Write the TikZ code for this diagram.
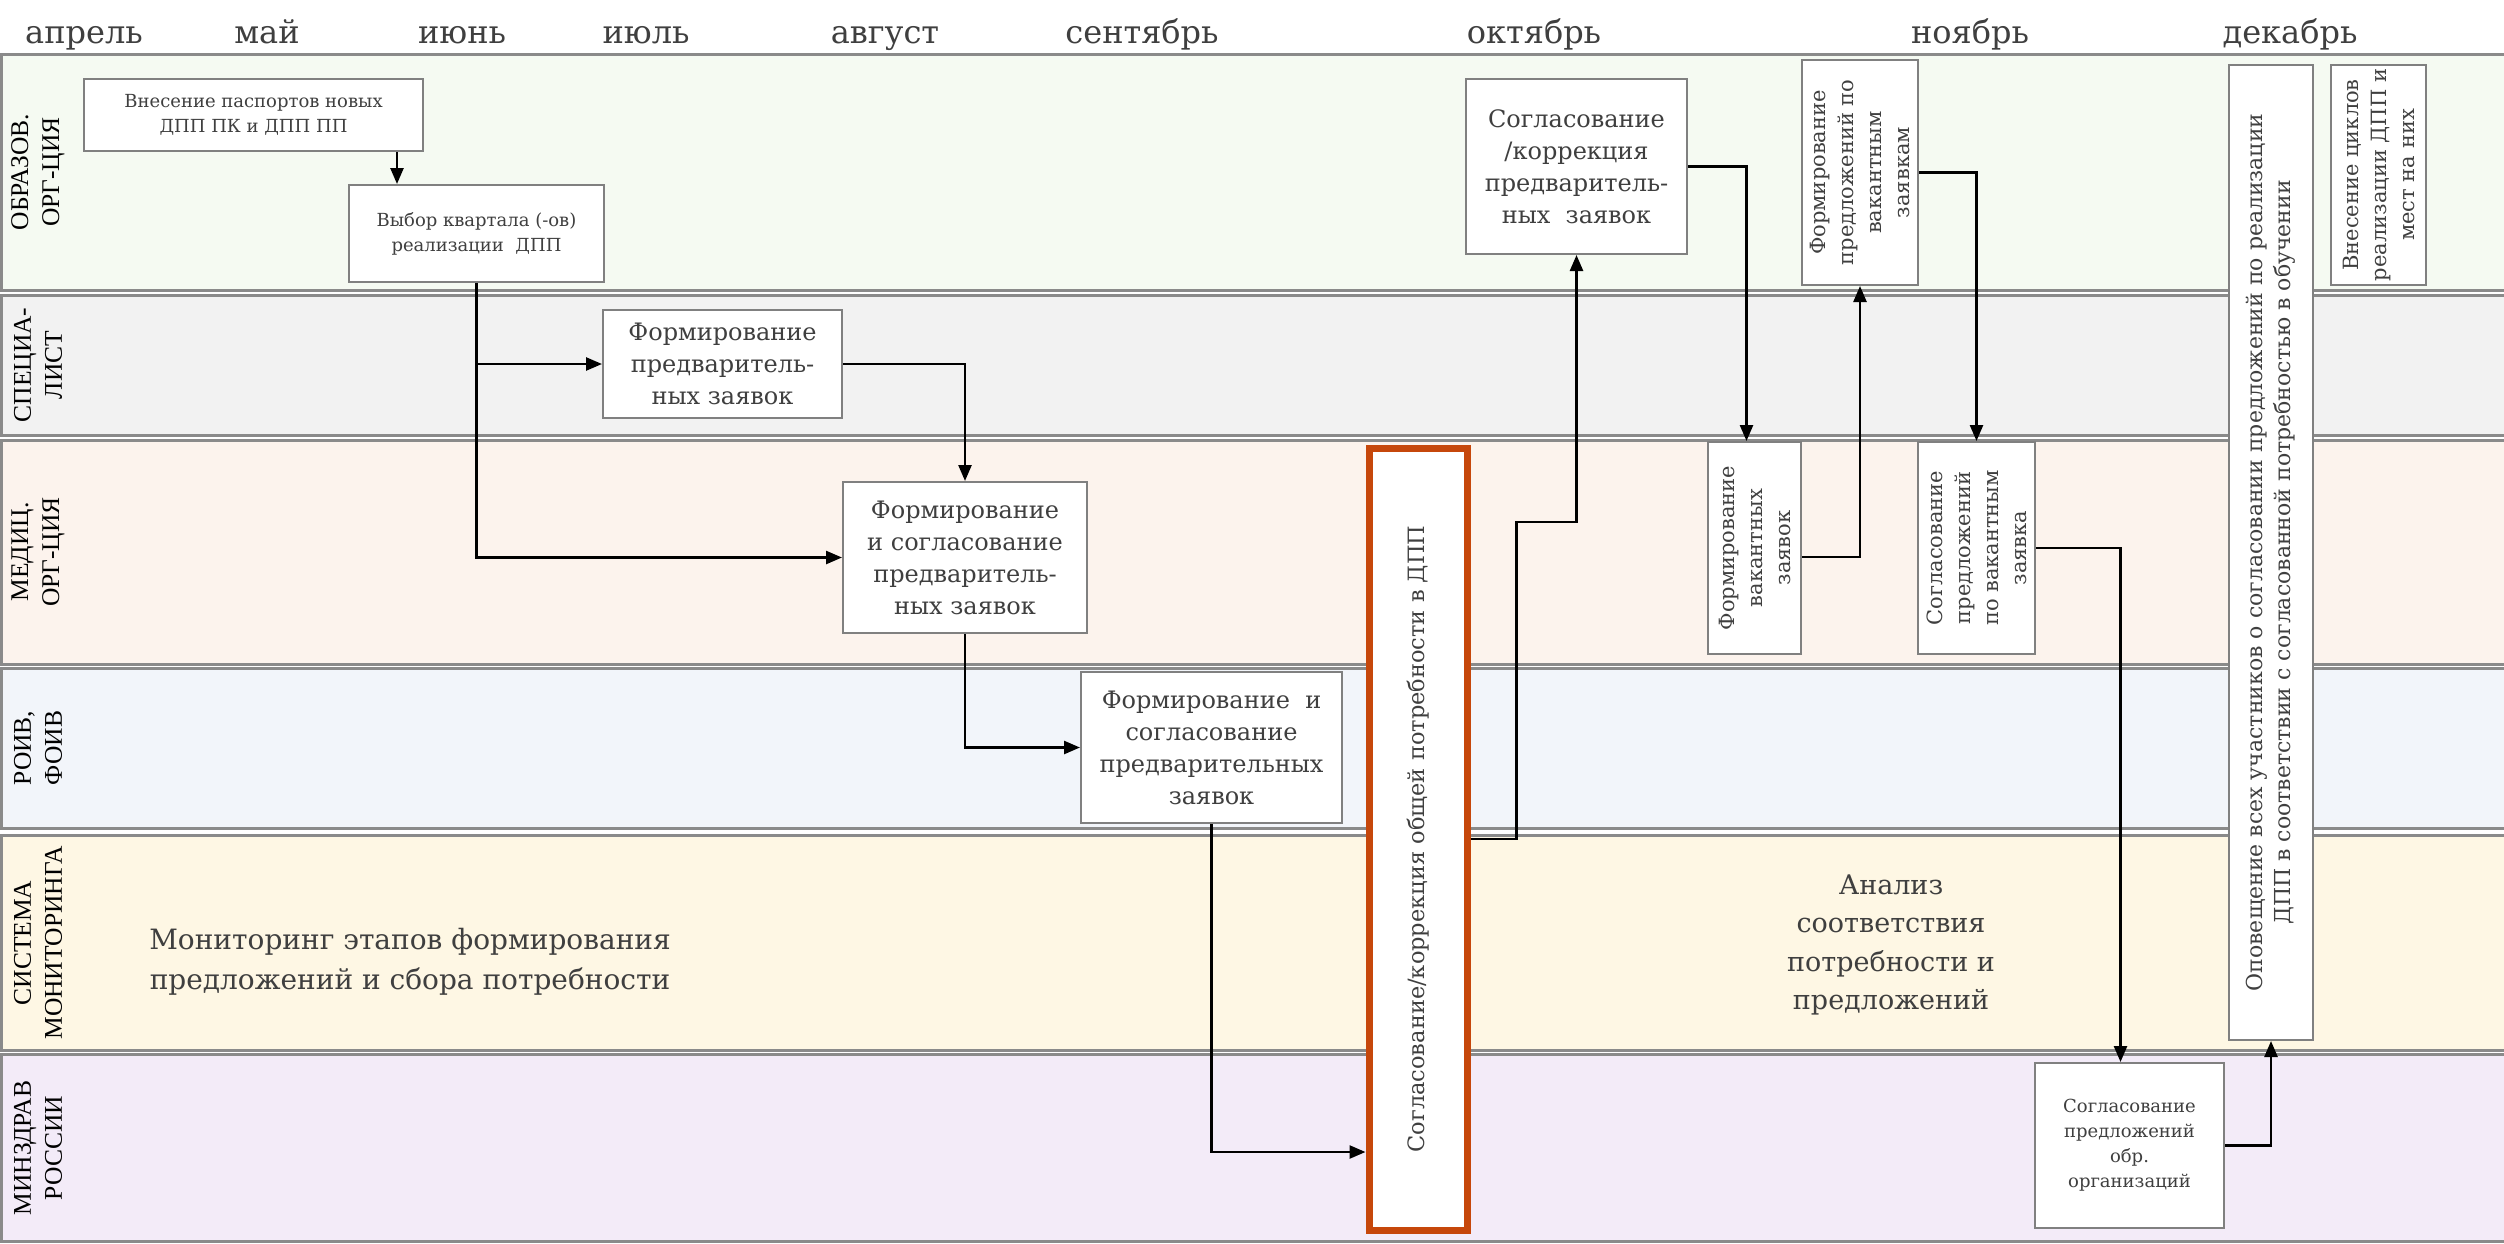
\documentclass[tikz,border=0pt]{standalone}
\usepackage{fontspec}
\setmainfont{DejaVu Serif}
\newfontfamily\lanefont{Liberation Serif}
\usetikzlibrary{arrows.meta,calc}
\definecolor{laneA}{HTML}{F5FAF2}
\definecolor{laneB}{HTML}{F2F2F2}
\definecolor{laneC}{HTML}{FCF3ED}
\definecolor{laneD}{HTML}{F2F5FA}
\definecolor{laneE}{HTML}{FEF7E4}
\definecolor{laneF}{HTML}{F3EBF8}
\definecolor{laneline}{HTML}{8A8A8A}
\definecolor{boxline}{HTML}{808080}
\definecolor{txt}{HTML}{3F3F3F}
\definecolor{redline}{HTML}{C6470B}
\begin{document}
\begin{tikzpicture}[x=1pt,y=-1pt,
  lane/.style={draw=laneline, line width=3pt},
  lanelabel/.style={rotate=90, align=center, text=black, inner sep=0pt, font=\lanefont\fontsize{25.5}{31}\selectfont},
  month/.style={anchor=base, text=txt, inner sep=0pt, font=\fontsize{32}{38}\selectfont},
  box/.style={draw=boxline, line width=2pt, fill=white, inner sep=0pt, align=center, text=txt},
  smalltext/.style={font=\fontsize{18}{25}\selectfont},
  midtext/.style={font=\fontsize{24}{32}\selectfont},
  rottext/.style={rotate=90, align=center, text=txt, inner sep=0pt, font=\fontsize{21}{28}\selectfont},
  freetext/.style={align=center, text=txt, inner sep=0pt},
  arr/.style={draw=black, line width=2.5pt, -{Triangle[length=16pt,width=13pt]}}
]
\useasboundingbox (0,0) rectangle (2504,1243);
\fill[white] (0,0) rectangle (2504,1243);

% lanes
\path[lane, fill=laneA] (1.5,54) rectangle (2508,290);
\path[lane, fill=laneB] (1.5,295) rectangle (2508,435);
\path[lane, fill=laneC] (1.5,440) rectangle (2508,664);
\path[lane, fill=laneD] (1.5,668) rectangle (2508,828);
\path[lane, fill=laneE] (1.5,835) rectangle (2508,1050);
\path[lane, fill=laneF] (1.5,1054) rectangle (2508,1241.5);

\node[lanelabel] (la) at (38,172) {ОБРАЗОВ.\\ОРГ-ЦИЯ};
\node[lanelabel] (lb) at (38,365) {СПЕЦИА-\\ЛИСТ};
\node[lanelabel] (lc) at (38,552) {МЕДИЦ.\\ОРГ-ЦИЯ};
\node[lanelabel] (ld) at (38,748) {РОИВ,\\ФОИВ};
\node[lanelabel] (le) at (38,943) {СИСТЕМА\\МОНИТОРИНГА};
\node[lanelabel] (lf) at (38,1148) {МИНЗДРАВ\\РОССИИ};

% months
\node[month] (m1) at (84,43) {апрель};
\node[month] (m2) at (267,43) {май};
\node[month] (m3) at (462,43) {июнь};
\node[month] (m4) at (646,43) {июль};
\node[month] (m5) at (885,43) {август};
\node[month] (m6) at (1142,43) {сентябрь};
\node[month] (m7) at (1534,43) {октябрь};
\node[month] (m8) at (1970,43) {ноябрь};
\node[month] (m9) at (2290,43) {декабрь};

% boxes
\node[box, smalltext, minimum width=339pt, minimum height=72pt] (A) at (253.5,115) {Внесение паспортов новых\\ДПП ПК и ДПП ПП};
\node[box, smalltext, minimum width=255pt, minimum height=97pt] (B) at (476.5,233.5) {Выбор квартала (-ов)\\реализации\ \ ДПП};
\node[box, midtext, minimum width=239pt, minimum height=108pt] (C) at (722.5,364) {Формирование\\предваритель-\\ных заявок};
\node[box, midtext, minimum width=244pt, minimum height=151pt] (D) at (965,557.5) {Формирование\\и согласование\\предваритель-\\ных заявок};
\node[box, midtext, minimum width=261pt, minimum height=151pt] (E) at (1211.5,747.5) {Формирование\ \ и\\согласование\\предварительных\\заявок};
\node[box, midtext, minimum width=221pt, minimum height=175pt] (F) at (1576.5,166.5) {Согласование\\/коррекция\\предваритель-\\ных\ \ заявок};
\node[box, smalltext, minimum width=189pt, minimum height=165pt] (J) at (2129.5,1145.5) {Согласование\\предложений\\обр.\\организаций};

\node[box, minimum width=93pt, minimum height=212pt] (G) at (1754.5,548) {};
\node[rottext] (Gt) at (G.center) {Формирование\\вакантных\\заявок};
\node[box, minimum width=116pt, minimum height=225pt] (H) at (1860,172.5) {};
\node[rottext] (Ht) at (H.center) {Формирование\\предложений по\\вакантным\\заявкам};
\node[box, minimum width=117pt, minimum height=212pt] (I) at (1976.5,548) {};
\node[rottext] (It) at (I.center) {Согласование\\предложений\\по вакантным\\заявка};
\node[box, minimum width=84pt, minimum height=975pt] (K) at (2271,552.5) {};
\node[rottext, font=\fontsize{22}{28}\selectfont] (Kt) at (K.center) {Оповещение всех участников о согласовании предложений по реализации\\ДПП в соответствии с согласованной потребностью в обучении};
\node[box, minimum width=95pt, minimum height=220pt] (L) at (2378.5,175) {};
\node[rottext] (Lt) at (L.center) {Внесение циклов\\реализации ДПП и\\мест на них};
\node[box, draw=redline, line width=7pt, minimum width=98pt, minimum height=782pt] (R) at (1418,839) {};
\node[rottext, font=\fontsize{22.5}{28}\selectfont] (Rt) at (R.center) {Согласование/коррекция общей потребности в ДПП};

% free texts
\node[freetext, font=\fontsize{28}{40}\selectfont] (mon) at (410,962) {Мониторинг этапов формирования\\предложений и сбора потребности};
\node[freetext, font=\fontsize{27}{38.5}\selectfont] (an) at (1891,945) {Анализ\\соответствия\\потребности и\\предложений};

% connectors
\coordinate (ab) at ([xshift=-79.5pt]B.north);
\draw[arr] (A.south -| ab) -- (ab);
\draw[arr] (B.south) |- (D.west);
\draw[arr] (B.south |- C.west) -- (C.west);
\draw[arr] (C.east) -| (D.north);
\draw[arr] (D.south) |- (E.west);
\draw[arr] (E.south) |- (R.west |- 0,1152);
\draw[arr] (R.east) -- ++(46,0) |- (F.south |- 0,522) -- (F.south);
\draw[arr] (F.east) -| ([xshift=-8pt]G.north);
\draw[arr] ([yshift=-9pt]G.east) -| (H.south);
\draw[arr] (H.east) -| (I.north);
\draw[arr] (I.east) -| ([xshift=-9pt]J.north);
\draw[arr] (J.east) -| (K.south);
\end{tikzpicture}
\end{document}
